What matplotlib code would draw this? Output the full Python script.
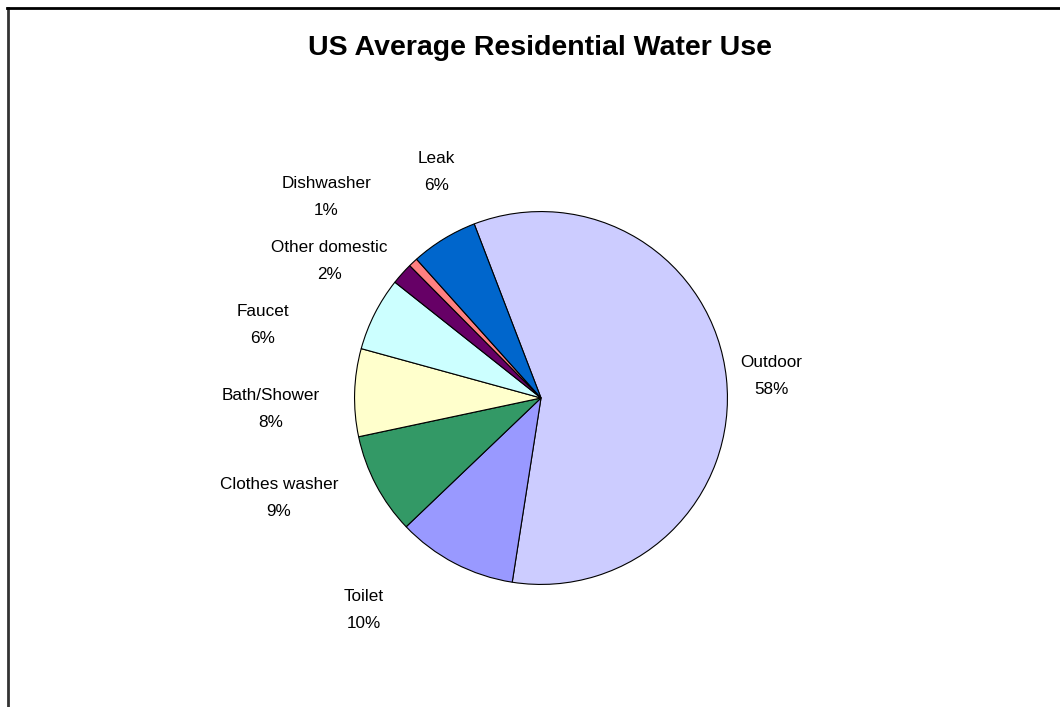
import matplotlib.pyplot as plt
from matplotlib.lines import Line2D

plt.rcParams['font.family'] = ['Liberation Sans', 'DejaVu Sans']

labels = ['Outdoor', 'Toilet', 'Clothes washer', 'Bath/Shower', 'Faucet',
          'Other domestic', 'Dishwasher', 'Leak']
values = [58.3, 10.4, 8.8, 7.6, 6.4, 1.9, 0.8, 5.8]
colors = ['#CCCCFF', '#9999FF', '#339966', '#FFFFCC', '#CCFFFF',
          '#660066', '#FF8080', '#0066CC']

# label positions in pie units (radius = 1)
label_pos = [(1.235, 0.118), (-0.952, -1.139), (-1.406, -0.535), (-1.449, -0.059),
             (-1.492, 0.390), (-1.134, 0.733), (-1.150, 1.080), (-0.561, 1.214)]

W, H = 1060, 707
fig = plt.figure(figsize=(W / 100, H / 100), dpi=100)
fig.patch.set_facecolor('white')

cx, cy, r = 541, 398, 187
ax = fig.add_axes([(cx - r) / W, (H - cy - r) / H, 2 * r / W, 2 * r / H])
ax.pie(values, colors=colors, startangle=111, counterclock=False, radius=1,
       wedgeprops=dict(edgecolor='black', linewidth=0.8))
ax.set_xlim(-1.003, 1.003)
ax.set_ylim(-1.003, 1.003)
ax.set_aspect('equal')
ax.axis('off')

total = sum(values)
for lab, v, (lx, ly) in zip(labels, values, label_pos):
    ax.text(lx, ly, f'{lab}\n{round(v / total * 100)}%', ha='center', va='center',
            fontsize=12.3, linespacing=2.0, clip_on=False)

fig.text(540 / W, 1 - 48 / H, 'US Average Residential Water Use', ha='center',
         va='center', fontsize=20.5, fontweight='bold')

# chart area border (left and top edges visible)
fig.add_artist(Line2D([7.5 / W, 7.5 / W], [0, 1 - 7.5 / H], color='#333333', lw=2))
fig.add_artist(Line2D([6.5 / W, 1], [1 - 7.5 / H, 1 - 7.5 / H], color='black', lw=2))

fig.savefig('out.png', dpi=100)
